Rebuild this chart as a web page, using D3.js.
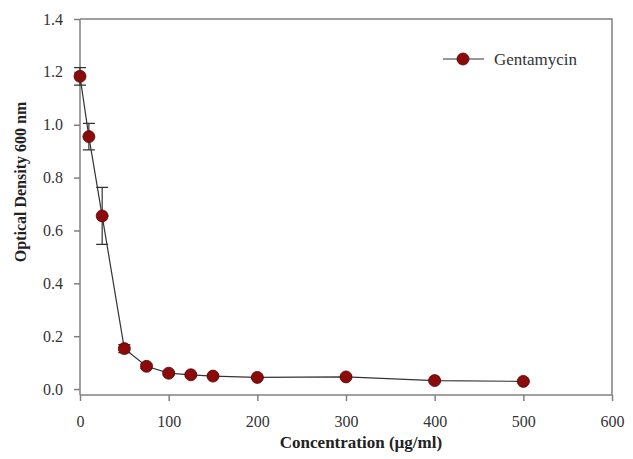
<!DOCTYPE html>
<html><head><meta charset="utf-8">
<script src="https://cdn.jsdelivr.net/npm/d3@7"></script>
<style>body{margin:0;background:#fff}svg{display:block}</style>
</head><body>
<svg id="c" width="633" height="459"></svg>
<script>
const concentrations = [0, 10, 25, 50, 75, 100, 125, 150, 200, 300, 400, 500];
const odValues = [1.183, 0.955, 0.655, 0.153, 0.086, 0.060, 0.054, 0.049, 0.044, 0.046, 0.032, 0.029];
const odErrors = [0.033, 0.05, 0.108, 0.015, 0.008, 0.006, 0.005, 0.005, 0.004, 0.004, 0.004, 0.004];
const xTicks = [0, 100, 200, 300, 400, 500, 600];
const yTicks = [0, 0.2, 0.4, 0.6, 0.8, 1.0, 1.2, 1.4];
const seriesName = "Gentamycin";

const svg = d3.select("#c");
const L = 80, R = 612, T = 19, B = 395;
const x = d3.scaleLinear().domain([0, 600]).range([L, R]);
const y = d3.scaleLinear().domain([-0.0225, 1.4]).range([B, T]);
const axisColor = "#808080", textColor = "#333";
const font = "'Liberation Serif','Times New Roman',serif";

// frame top & right
svg.append("path").attr("d", `M${L},${T}H${R}V${B}`).attr("fill","none").attr("stroke",axisColor).attr("stroke-width",1.5);

const gx = svg.append("g").attr("transform",`translate(0,${B})`)
  .call(d3.axisBottom(x).tickValues(xTicks).tickFormat(d3.format("d")).tickSizeOuter(0).tickSize(6).tickPadding(15));
const gy = svg.append("g").attr("transform",`translate(${L},0)`)
  .call(d3.axisLeft(y).tickValues(yTicks).tickFormat(d3.format(".1f")).tickSizeOuter(0).tickSize(6).tickPadding(11));
[gx, gy].forEach(g => {
  g.select(".domain").attr("stroke",axisColor).attr("stroke-width",1.5);
  g.selectAll(".tick line").attr("stroke",axisColor).attr("stroke-width",1.5);
  g.selectAll(".tick text").attr("fill",textColor).style("font-family",font).style("font-size","16px");
});
gx.select(".domain").attr("d", `M${L},0H${R}`);
gy.select(".domain").attr("d", `M0,${T}V${B}`);

const data = concentrations.map((c,i)=>({c, v:odValues[i], e:odErrors[i]}));

// error bars
const eb = svg.append("g").attr("stroke","#333").attr("stroke-width",1.2).attr("fill","none");
data.forEach(d => {
  const x0 = x(d.c), y1 = y(d.v + d.e), y2 = y(d.v - d.e);
  eb.append("path").attr("d", `M${x0},${y1}V${y2}M${x0-6},${y1}H${x0+6}M${x0-6},${y2}H${x0+6}`);
});

svg.append("path").datum(data)
  .attr("d", d3.line().x(d=>x(d.c)).y(d=>y(d.v)))
  .attr("fill","none").attr("stroke","#333").attr("stroke-width",1.2);

svg.append("g").selectAll("circle").data(data).join("circle")
  .attr("cx", d=>x(d.c)).attr("cy", d=>y(d.v)).attr("r", 6)
  .attr("fill","#8b0a0a").attr("stroke","#5a0505").attr("stroke-width",0.8);

// legend
const lg = svg.append("g");
lg.append("line").attr("x1",443).attr("x2",484).attr("y1",59).attr("y2",59).attr("stroke","#333").attr("stroke-width",1.2);
lg.append("circle").attr("cx",463).attr("cy",59).attr("r",6).attr("fill","#8b0a0a").attr("stroke","#5a0505").attr("stroke-width",0.8);
lg.append("text").attr("x",494).attr("y",65).text(seriesName).attr("fill",textColor).style("font-family",font).style("font-size","17px");

// axis titles
svg.append("text").attr("x",361).attr("y",448).attr("text-anchor","middle")
  .text("Concentration (µg/ml)").attr("fill","#222").style("font-family",font).style("font-size","17px").style("font-weight","bold");
svg.append("text").attr("transform",`translate(26,182) rotate(-90)`).attr("text-anchor","middle")
  .text("Optical Density 600 nm").attr("fill","#222").style("font-family",font).style("font-size","16px").style("font-weight","bold");
</script>
</body></html>
